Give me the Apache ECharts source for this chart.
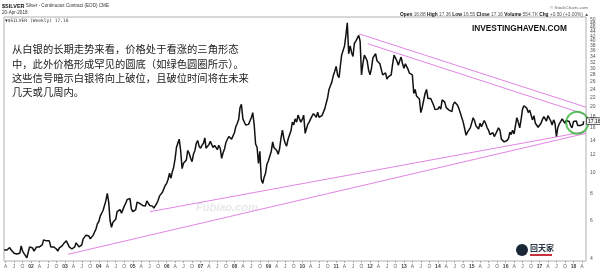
<!DOCTYPE html>
<html><head><meta charset="utf-8">
<script src="https://cdn.jsdelivr.net/npm/echarts@6/dist/echarts.min.js"></script>
<style>html,body{margin:0;padding:0;background:#fff}#c{width:600px;height:272px}</style>
</head><body><div id="c"></div>
<script>
const s2001 = [4.40,4.35,4.40,4.48,4.52,4.40,4.35,4.25,4.28,4.22,4.20,4.25,4.60,4.35,4.25,4.15,4.05,4.30,4.55]; // from Mar 16
const s2002 = [4.60,4.50,4.35,4.45,4.55,4.60,4.55,4.55,4.65,4.90,5.00,4.85,4.95,4.85,4.55,4.55,4.55,4.60,4.45,4.35,4.50,4.50,4.60,4.70];
const s2003 = [4.80,4.85,4.80,4.55,4.60,4.45,4.45,4.55,4.75,4.85,4.55,4.55,4.65,4.95,5.00,5.15,5.10,5.10,4.95,4.95,5.15,5.25,5.50,5.80];
const s2004 = [5.95,6.30,6.25,6.70,6.80,7.40,8.00,7.30,6.00,5.60,5.90,5.80,6.10,6.60,6.50,6.75,6.50,6.40,7.00,7.20,7.50,7.55,7.60,6.80];
const s2005 = [6.60,6.50,6.75,7.30,7.40,7.20,7.15,7.05,7.10,7.00,7.40,7.30,7.05,7.10,7.00,6.85,6.95,7.20,7.45,7.80,7.70,8.10,8.40,8.70];
const s2006 = [8.90,9.30,9.90,9.40,10.00,10.50,11.50,13.00,13.60,14.20,12.50,10.40,11.00,11.20,11.40,12.60,12.20,11.60,11.20,12.10,12.60,13.60,14.00,13.20];
const s2007 = [12.90,13.30,13.60,14.40,12.90,13.10,13.40,13.90,13.40,13.00,13.30,13.20,12.70,13.30,12.90,11.60,12.30,12.80,13.70,13.80,14.60,14.70,14.20,14.30];
const s2008 = [15.20,16.20,16.80,17.50,19.80,20.50,17.60,17.50,16.50,16.80,16.60,17.20,17.80,18.80,16.50,13.50,13.00,11.00,12.50,9.30,8.90,9.50,9.90,10.90];
const s2009 = [11.30,11.20,12.50,13.80,13.00,13.10,12.60,12.10,12.80,14.30,15.60,14.30,13.60,13.20,14.20,14.30,15.50,17.00,16.50,17.60,17.00,18.30,18.60,17.00];
const s2010 = [17.50,18.30,15.10,15.90,16.60,17.00,17.60,18.10,18.60,18.40,17.90,18.90,17.90,17.70,18.20,18.20,19.60,20.80,22.00,24.00,25.00,26.00,27.80,29.00];
const s2011 = [30.60,28.00,27.20,31.00,34.50,35.00,38.00,42.50,48.50,35.00,38.00,35.50,34.00,39.00,40.00,40.50,42.50,40.00,28.00,31.50,34.50,33.50,32.50,29.50];
const s2012 = [28.00,30.00,33.50,33.50,35.00,32.50,32.50,31.50,31.00,28.00,28.50,28.60,26.80,27.40,27.50,28.00,31.50,34.50,34.50,32.50,31.00,32.50,33.80,31.50];
const s2013 = [30.00,31.50,32.00,29.50,28.50,28.80,28.00,23.00,24.00,22.40,22.30,21.70,18.80,19.80,19.60,23.00,24.00,21.80,21.50,21.80,21.90,20.30,19.40,19.60];
const s2014 = [19.50,20.00,19.50,21.50,21.30,21.00,19.80,19.60,19.30,19.30,19.00,20.50,21.00,20.80,20.30,19.60,19.20,17.80,17.00,17.30,14.80,15.30,15.50,16.00];
const s2015 = [15.70,17.80,17.20,16.30,16.40,15.80,16.80,16.20,16.20,17.30,16.70,16.00,15.60,14.90,14.60,15.20,14.60,15.00,14.70,16.00,15.60,14.20,14.10,13.80];
const s2016 = [13.90,14.00,14.30,15.30,14.90,15.60,15.00,16.40,17.80,17.00,16.00,17.50,19.50,20.20,20.30,19.70,18.80,19.30,19.20,17.40,18.20,16.80,16.60,16.10];
const s2017 = [16.00,16.80,17.50,18.00,18.30,17.20,18.20,18.50,17.20,16.50,17.40,16.80,14.60,16.00,16.70,17.10,17.60,17.80,16.80,17.30,17.00,17.10,16.40,16.00];
const s2018 = [17.10,17.20,17.20,16.40,16.50,16.40,16.30,16.60];
const lastWeek = ['2018-04-20', 17.16];

// trend lines drawn on the chart (start / end)
const upperLine1 = [['2011-09-04', 43.2], ['2018-05-16', 19.9]];
const upperLine2 = [['2011-12-08', 38.9], ['2018-05-16', 18.4]];
const lowerLine1 = [['2003-02-05', 4.21], ['2018-05-16', 15.1]];
const lowerLine2 = [['2005-07-05', 6.6], ['2018-05-16', 15.4]];
const roundBottom = [['2018-02-10', 16.9]];

const yTickValues = [4,6,8,10,12,14,16,18,20,22,24,26,28,30,32,34,36,38,40,42,44,46,48,50];
const monthLetters = {3:'A', 6:'J', 9:'O'};
const lastClose = 17.16;

function halfMonths(year, m0, h0, vals) {
  const out = []; let m = m0, h = h0;
  for (const v of vals) { out.push([new Date(year, m, h ? 16 : 1).getTime(), v]); h++; if (h > 1) { h = 0; m++; } }
  return out;
}
function toTs(s) { const p = s.split('-'); return new Date(+p[0], +p[1]-1, +p[2]).getTime(); }
function seg(a) { return a.map(d => [toTs(d[0]), d[1]]); }
const priceData = [].concat(
  halfMonths(2001, 2, 1, s2001), halfMonths(2002, 0, 0, s2002), halfMonths(2003, 0, 0, s2003),
  halfMonths(2004, 0, 0, s2004), halfMonths(2005, 0, 0, s2005), halfMonths(2006, 0, 0, s2006),
  halfMonths(2007, 0, 0, s2007), halfMonths(2008, 0, 0, s2008), halfMonths(2009, 0, 0, s2009),
  halfMonths(2010, 0, 0, s2010), halfMonths(2011, 0, 0, s2011), halfMonths(2012, 0, 0, s2012),
  halfMonths(2013, 0, 0, s2013), halfMonths(2014, 0, 0, s2014), halfMonths(2015, 0, 0, s2015),
  halfMonths(2016, 0, 0, s2016), halfMonths(2017, 0, 0, s2017), halfMonths(2018, 0, 0, s2018),
  [[toTs(lastWeek[0]), lastWeek[1]]]
);
const quarterTicks = [];
for (let y = 2001; y <= 2018; y++) for (let m = 0; m < 12; m += 3) {
  if ((y === 2001 && m < 3) || (y === 2018 && m > 3)) continue;
  quarterTicks.push(new Date(y, m, 1).getTime());
}

const chart = echarts.init(document.getElementById('c'), null, {renderer: 'canvas'});
const FONT = 'Liberation Sans';
const pink = '#e384e3';
const trend = (name, d) => ({
  name, type: 'line', data: seg(d), symbol: 'none', silent: true, z: 1,
  lineStyle: {color: pink, width: 1}
});
chart.setOption({
  animation: false,
  backgroundColor: '#fff',
  textStyle: {fontFamily: FONT},
  grid: {left: 4, right: 14, top: 17, bottom: 11, show: true, borderColor: '#b0b0b0', borderWidth: 1, backgroundColor: '#fff'},
  xAxis: {
    type: 'value',
    min: toTs('2001-03-15'), max: toTs('2018-05-16'),
    axisLine: {show: false},
    splitLine: {show: false},
    axisTick: {show: true, customValues: quarterTicks, length: 2, lineStyle: {color: '#aaa'}},
    axisLabel: {
      customValues: quarterTicks, fontSize: 5, color: '#666', margin: 3, fontFamily: FONT,
      hideOverlap: false,
      formatter: v => { const d = new Date(v); const m = d.getMonth();
        return m === 0 ? '{y|' + String(d.getFullYear()).slice(2) + '}' : monthLetters[m]; },
      rich: {y: {fontSize: 5, fontWeight: 'bold', color: '#444', fontFamily: FONT}}
    }
  },
  yAxis: {
    type: 'log', logBase: 10, min: 3.92, max: 51.6, position: 'right',
    axisLine: {show: false}, axisTick: {show: false}, axisLabel: {show: false}, splitLine: {show: false}
  },
  graphic: [
    {type: 'text', left: 2, top: 3, style: {text: '{b|$SILVER} Silver - Continuous Contract (EOD) CME',
      rich: {b: {fontSize: 5.5, fontWeight: 'bold', fill: '#111', fontFamily: FONT}}, fontSize: 4.6, fill: '#333', fontFamily: FONT}},
    {type: 'text', left: 2, top: 10, style: {text: '20-Apr-2018', fontSize: 4.6, fill: '#333', fontFamily: FONT}},
    {type: 'text', left: 5, top: 18, style: {text: '▼$SILVER (Weekly) 17.16', fontSize: 4.6, fill: '#333', fontFamily: 'DejaVu Sans Mono'}},
    {type: 'text', right: 12, top: 6, style: {text: '© StockCharts.com', fontSize: 4.4, fill: '#666', fontFamily: FONT}},
    {type: 'text', right: 11, top: 12, style: {
      text: '{b|Open} 16.88 {b|High} 17.36 {b|Low} 16.55 {b|Close} 17.16 {b|Volume} 554.7K {b|Chg} +0.50 (+3.00%) ▲',
      fontSize: 4.8, fill: '#555', fontFamily: FONT,
      rich: {b: {fontSize: 4.8, fontWeight: 'bold', fill: '#111', fontFamily: FONT}}}},
    {type: 'text', left: 472, top: 25, style: {text: 'INVESTINGHAVEN.COM', fontSize: 8.3, fontWeight: 'bold', fill: '#111', fontFamily: FONT}},
    {type: 'text', left: 12, top: 42, style: {
      text: '从白银的长期走势来看，价格处于看涨的三角形态\n中，此外价格形成罕见的圆底（如绿色圆圈所示）。\n这些信号暗示白银将向上破位，且破位时间将在未来\n几天或几周内。',
      fontSize: 10.3, lineHeight: 14.4, fill: '#222', fontFamily: 'Noto Sans CJK SC'}},
    {type: 'text', left: 196, top: 202, z: 0, style: {text: 'Fubiao.com', fontSize: 11, fontStyle: 'italic', fontWeight: 'bold', fill: '#e8e8e8', fontFamily: FONT}},
    {type: 'text', left: 530, top: 244, style: {text: '回天家', fontSize: 8, fontWeight: 'bold', fill: '#2a3446', fontFamily: 'Noto Sans CJK SC'}},
    {type: 'rect', shape: {x: 530, y: 254, width: 22, height: 2}, style: {fill: '#c8323c'}},
    {type: 'circle', shape: {cx: 522, cy: 250, r: 6}, style: {fill: '#1a2636'}}
  ],
  series: [
    trend('upper1', upperLine1), trend('upper2', upperLine2),
    trend('lower1', lowerLine1), trend('lower2', lowerLine2),
    {
      name: '$SILVER', type: 'line', data: priceData, symbol: 'none', z: 3,
      lineStyle: {color: '#111', width: 1.5},
      markLine: {
        silent: true, symbol: ['none', 'none'], animation: false,
        lineStyle: {color: 'rgba(0,0,0,0)', width: 0},
        label: {position: 'end', distance: 4, fontSize: 5, color: '#555', fontFamily: FONT, formatter: p => p.value},
        data: yTickValues.map(v => ({yAxis: v})).concat([{
          yAxis: lastClose,
          label: {position: 'end', distance: 1, formatter: String(lastClose), fontSize: 5, color: '#000',
            backgroundColor: '#f4f4f4', borderColor: '#000', borderWidth: 0.6, padding: [1, 1, 0, 1], fontFamily: FONT}
        }])
      }
    },
    {
      name: 'roundBottom', type: 'scatter', data: seg(roundBottom), symbol: 'circle', symbolSize: 22, z: 4, silent: true,
      itemStyle: {color: 'rgba(0,0,0,0)', borderColor: '#35b53a', borderWidth: 2}
    }
  ]
});
</script>
</body></html>
